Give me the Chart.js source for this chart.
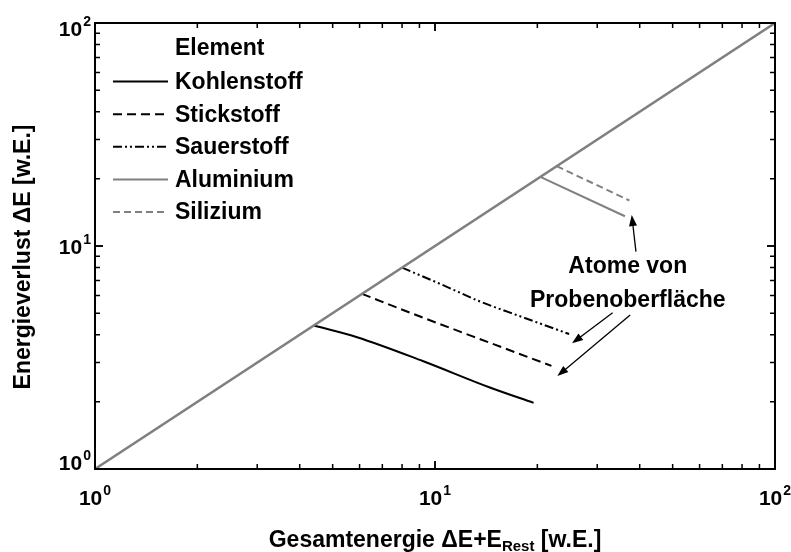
<!DOCTYPE html>
<html>
<head>
<meta charset="utf-8">
<script src="https://cdn.jsdelivr.net/npm/chart.js@4/dist/chart.umd.min.js"></script>
<style>
  html, body { margin: 0; padding: 0; background: #ffffff; }
  canvas { display: block; }
</style>
</head>
<body>
<canvas id="c" width="791" height="552"></canvas>
<script>
// Gesamtenergie (x) and Energieverlust (y), in w.E., per element
const kohlenstoffE  = [4.4, 5.9, 9.2, 14.5, 19.5];
const kohlenstoffDE = [4.4, 3.9, 3.05, 2.32, 1.98];
const stickstoffE   = [6.1, 9.0, 15.0, 22.0];
const stickstoffDE  = [6.1, 4.84, 3.61, 2.9];
const sauerstoffE   = [8.0, 10.5, 13.6, 18.0, 24.8];
const sauerstoffDE  = [8.0, 6.7, 5.63, 4.81, 4.03];
const aluminiumE    = [20.4, 36.2];
const aluminiumDE   = [20.4, 13.6];
const siliziumE     = [22.8, 37.3];
const siliziumDE    = [22.8, 16.0];
// Grenzlinie ΔE = E (vollständiger Energieverlust)
const grenzE  = [1, 100];
const grenzDE = [1, 100];

const elementNames = ['Kohlenstoff', 'Stickstoff', 'Sauerstoff', 'Aluminium', 'Silizium'];
const legendTitle = 'Element';
const tickValues = [1, 10, 100];
const tickExponents = ['0', '1', '2'];
const annotationLines = ['Atome von', 'Probenoberfläche'];
// arrows from the label to the curve ends, [tailE, tailDE, tipE, tipDE]
const arrows = [
  [39.0, 9.43, 37.9, 13.77],
  [33.3, 5.02, 25.3, 3.66],
  [37.5, 4.90, 22.9, 2.61]
];
const annotationAnchor = [36.9, 7.59, 5.34]; // E, ΔE of first baseline, ΔE of second baseline

const pts = (xs, ys) => xs.map((x, i) => ({ x: x, y: ys[i] }));
const GREY = '#808080';
const FONT = '"Liberation Sans", Arial, sans-serif';

const datasets = [
  { label: '', data: pts(grenzE, grenzDE), borderColor: GREY, borderWidth: 2.5, inLegend: false },
  { label: elementNames[0], data: pts(kohlenstoffE, kohlenstoffDE), borderColor: '#000', borderWidth: 2, borderDash: [], cubicInterpolationMode: 'monotone', inLegend: true },
  { label: elementNames[1], data: pts(stickstoffE, stickstoffDE), borderColor: '#000', borderWidth: 2, borderDash: [9, 5], cubicInterpolationMode: 'monotone', inLegend: true },
  { label: elementNames[2], data: pts(sauerstoffE, sauerstoffDE), borderColor: '#000', borderWidth: 2, borderDash: [9, 3, 2, 3, 2, 3], cubicInterpolationMode: 'monotone', inLegend: true },
  { label: elementNames[3], data: pts(aluminiumE, aluminiumDE), borderColor: GREY, borderWidth: 2, borderDash: [], inLegend: true },
  { label: elementNames[4], data: pts(siliziumE, siliziumDE), borderColor: GREY, borderWidth: 2, borderDash: [7, 4], inLegend: true }
].map(d => Object.assign({ showLine: true, pointRadius: 0, fill: false }, d));

function drawPow(ctx, cx, cy, exp, align) {
  // "10" with superscript exponent; cx/cy = reference point
  ctx.font = 'bold 21px ' + FONT;
  const wBase = ctx.measureText('10').width;
  ctx.font = 'bold 14px ' + FONT;
  const wExp = ctx.measureText(exp).width;
  const total = wBase + wExp + 1;
  const x0 = align === 'center' ? cx - total / 2 : cx - total;
  ctx.textBaseline = 'alphabetic';
  ctx.textAlign = 'left';
  ctx.font = 'bold 21px ' + FONT;
  ctx.fillText('10', x0, cy + 7.5);
  ctx.font = 'bold 14px ' + FONT;
  ctx.fillText(exp, x0 + wBase + 1, cy - 2);
}

function arrow(ctx, x1, y1, x2, y2) {
  const a = Math.atan2(y2 - y1, x2 - x1);
  const L = 11, W = 4;
  ctx.beginPath();
  ctx.moveTo(x1, y1);
  ctx.lineTo(x2 - Math.cos(a) * L * 0.8, y2 - Math.sin(a) * L * 0.8);
  ctx.stroke();
  ctx.beginPath();
  ctx.moveTo(x2, y2);
  ctx.lineTo(x2 - Math.cos(a) * L + Math.sin(a) * W, y2 - Math.sin(a) * L - Math.cos(a) * W);
  ctx.lineTo(x2 - Math.cos(a) * L - Math.sin(a) * W, y2 - Math.sin(a) * L + Math.cos(a) * W);
  ctx.closePath();
  ctx.fill();
}

const framePlugin = {
  id: 'frame',
  afterDraw(chart) {
    const { ctx, chartArea: ca, scales } = chart;
    const xs = scales.x, ys = scales.y;
    ctx.save();
    ctx.fillStyle = '#000';
    ctx.strokeStyle = '#000';

    // frame
    ctx.lineWidth = 2;
    ctx.strokeRect(ca.left, ca.top, ca.right - ca.left, ca.bottom - ca.top);

    // inward ticks on all four sides
    ctx.lineWidth = 1.5;
    for (let dec = 1; dec < 100; dec *= 10) {
      for (let k = 1; k <= 10; k++) {
        const v = dec * k;
        const len = (k === 1 || k === 10) ? 8 : 5;
        const px = xs.getPixelForValue(v);
        const py = ys.getPixelForValue(v);
        ctx.beginPath();
        ctx.moveTo(px, ca.bottom); ctx.lineTo(px, ca.bottom - len);
        ctx.moveTo(px, ca.top); ctx.lineTo(px, ca.top + len);
        ctx.moveTo(ca.left, py); ctx.lineTo(ca.left + len, py);
        ctx.moveTo(ca.right, py); ctx.lineTo(ca.right - len, py);
        ctx.stroke();
      }
    }

    // tick labels
    tickValues.forEach((v, i) => {
      const px = xs.getPixelForValue(v);
      drawPow(ctx, px, 497, tickExponents[i], 'center');
      let py = ys.getPixelForValue(v);
      py = Math.min(Math.max(py, ca.top + 5), ca.bottom - 7);
      drawPow(ctx, 91, py, tickExponents[i], 'right');
    });

    // axis titles
    const TF = 'bold 23px ' + FONT, SF = 'bold 15px ' + FONT;
    ctx.font = TF;
    ctx.textBaseline = 'alphabetic';
    const p1 = 'Gesamtenergie \u0394E+E', sub = 'Rest', p2 = ' [w.E.]';
    const w1 = ctx.measureText(p1).width;
    const w3 = ctx.measureText(p2).width;
    ctx.font = SF;
    const w2 = ctx.measureText(sub).width;
    const cx = (ca.left + ca.right) / 2;
    const x0 = cx - (w1 + w2 + w3) / 2;
    const by = 547;
    ctx.textAlign = 'left';
    ctx.font = TF;
    ctx.fillText(p1, x0, by);
    ctx.font = SF;
    ctx.fillText(sub, x0 + w1, by + 4);
    ctx.font = TF;
    ctx.fillText(p2, x0 + w1 + w2, by);

    ctx.save();
    ctx.translate(30, 257);
    ctx.rotate(-Math.PI / 2);
    ctx.textAlign = 'center';
    ctx.fillText('Energieverlust \u0394E [w.E.]', 0, 0);
    ctx.restore();

    // legend
    ctx.textAlign = 'left';
    ctx.textBaseline = 'middle';
    ctx.font = 'bold 23px ' + FONT;
    const lx = ca.left + 80, ly = 49, step = 32.6;
    ctx.fillText(legendTitle, lx, ly);
    let row = 1;
    chart.data.datasets.forEach(ds => {
      if (!ds.inLegend) return;
      const y = ly + row * step;
      ctx.save();
      ctx.strokeStyle = ds.borderColor;
      ctx.lineWidth = ds.borderWidth;
      ctx.setLineDash(ds.borderDash || []);
      ctx.beginPath();
      ctx.moveTo(ca.left + 18, y);
      ctx.lineTo(ca.left + 73, y);
      ctx.stroke();
      ctx.restore();
      ctx.fillText(ds.label, lx, y + 1);
      row++;
    });

    // annotation
    ctx.textAlign = 'center';
    ctx.textBaseline = 'alphabetic';
    const ax = xs.getPixelForValue(annotationAnchor[0]);
    ctx.fillText(annotationLines[0], ax, ys.getPixelForValue(annotationAnchor[1]));
    ctx.fillText(annotationLines[1], ax, ys.getPixelForValue(annotationAnchor[2]));
    ctx.lineWidth = 1.3;
    arrows.forEach(a => {
      arrow(ctx, xs.getPixelForValue(a[0]), ys.getPixelForValue(a[1]),
                 xs.getPixelForValue(a[2]), ys.getPixelForValue(a[3]));
    });
    ctx.restore();
  }
};

new Chart(document.getElementById('c'), {
  type: 'scatter',
  data: { datasets: datasets },
  options: {
    responsive: false,
    devicePixelRatio: 1,
    animation: false,
    layout: { padding: { left: 95, right: 16, top: 23, bottom: 83 } },
    plugins: { legend: { display: false }, tooltip: { enabled: false } },
    scales: {
      x: { type: 'logarithmic', min: 1, max: 100, display: false },
      y: { type: 'logarithmic', min: 1, max: 100, display: false }
    }
  },
  plugins: [framePlugin]
});
</script>
</body>
</html>
